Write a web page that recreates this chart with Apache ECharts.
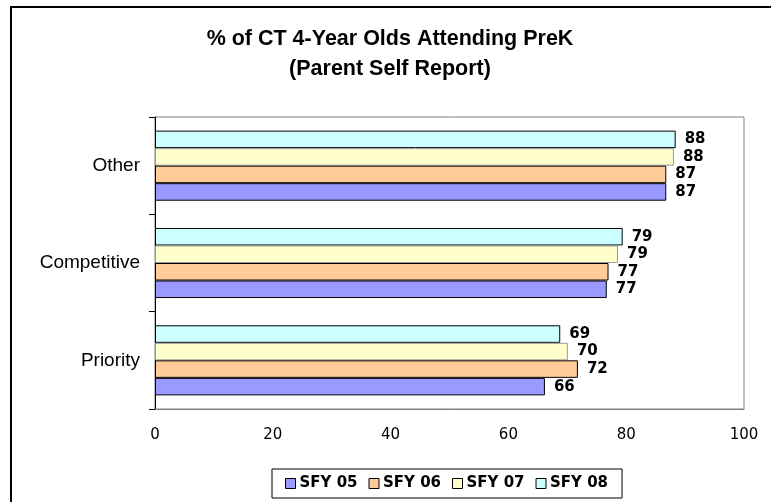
<!DOCTYPE html>
<html>
<head>
<meta charset="utf-8">
<script src="https://cdn.jsdelivr.net/npm/echarts@6/dist/echarts.min.js"></script>
<style>
html,body{margin:0;padding:0;background:#fff;}
#chart{width:771px;height:502px;}
</style>
</head>
<body>
<div id="chart"></div>
<script>
const categories = ['Priority', 'Competitive', 'Other'];
const seriesNames = ['SFY 05', 'SFY 06', 'SFY 07', 'SFY 08'];
const sfy05 = [66.2, 76.7, 86.8];
const sfy06 = [71.8, 77.0, 86.8];
const sfy07 = [70.1, 78.6, 88.1];
const sfy08 = [68.8, 79.4, 88.4];
const xTicks = [0, 20, 40, 60, 80, 100];

const colors = ['#9999FF', '#FFCC99', '#FFFFCC', '#CCFFFF'];
const borders = ['#000000', '#000000', '#999999', '#000000'];
const values = [sfy05, sfy06, sfy07, sfy08];

const chart = echarts.init(document.getElementById('chart'), null, {renderer: 'canvas'});

// ECharts places series in a horizontal band from top to bottom,
// so add them in reverse to get SFY 05 at the bottom.
const series = [3, 2, 1, 0].map(i => ({
  name: seriesNames[i],
  type: 'bar',
  data: values[i],
  barGap: '0%',
  barCategoryGap: '28%',
  itemStyle: {color: colors[i], borderColor: borders[i], borderWidth: 1},
  label: {
    show: true,
    position: 'right',
    distance: 9,
    formatter: p => Math.round(p.value),
    fontFamily: 'DejaVu Sans',
    fontWeight: 'bold',
    fontSize: 15,
    color: '#000'
  }
}));

chart.setOption({
  animation: false,
  backgroundColor: '#fff',
  title: {
    text: '% of CT 4-Year Olds Attending PreK\n(Parent Self Report)',
    left: 385,
    textAlign: 'center',
    top: 19,
    textStyle: {fontFamily: 'Liberation Sans', fontWeight: 'bold', fontSize: 21.5, lineHeight: 30, color: '#000'}
  },
  legend: {
    data: seriesNames,
    left: 272,
    top: 469,
    itemWidth: 10,
    itemHeight: 10,
    itemGap: 11,
    padding: [7, 14, 7, 13],
    borderColor: '#000',
    borderWidth: 1,
    icon: 'rect',
    itemStyle: {borderColor: '#000', borderWidth: 1},
    textStyle: {fontFamily: 'DejaVu Sans', fontWeight: 'bold', fontSize: 15, color: '#000', padding: [0, 0, 0, -1]}
  },
  grid: {left: 155, right: 27, top: 117, bottom: 93, show: true, borderColor: '#808080', borderWidth: 1, backgroundColor: 'transparent'},
  xAxis: {
    type: 'value',
    min: 0,
    max: 100,
    interval: 20,
    splitLine: {show: false},
    axisLine: {show: true, lineStyle: {color: '#808080'}},
    axisTick: {show: false},
    axisLabel: {
      margin: 19,
      fontFamily: 'DejaVu Sans',
      fontSize: 15,
      color: '#000',
      formatter: v => xTicks.includes(v) ? String(v) : ''
    }
  },
  yAxis: {
    type: 'category',
    data: categories,
    axisLine: {show: true, lineStyle: {color: '#000'}},
    axisTick: {show: true, length: 6, lineStyle: {color: '#000'}},
    axisLabel: {margin: 15, fontFamily: 'Liberation Sans', fontSize: 19, color: '#000'}
  },
  series: series,
  graphic: [{
    type: 'rect',
    shape: {x: 11, y: 7, width: 900, height: 700},
    style: {fill: 'none', stroke: '#000', lineWidth: 2},
    silent: true,
    z: 100
  }]
});
</script>
</body>
</html>
